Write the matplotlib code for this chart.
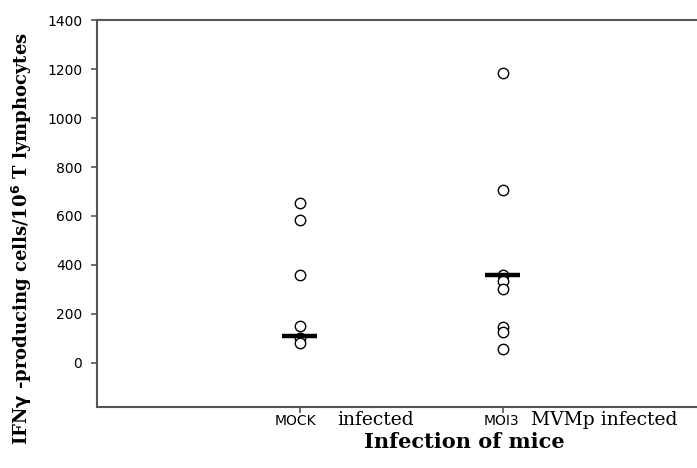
import matplotlib.pyplot as plt
import numpy as np

groups = ['MOCK', 'MOI3']
group_desc = ['infected', 'MVMp infected']
mock_vals = [655, 585, 360, 150, 100, 80]
moi3_vals = [1185, 705, 360, 335, 300, 145, 125, 55]
medians = [110, 360]
yticks = [0, 200, 400, 600, 800, 1000, 1200, 1400]

fig = plt.figure(figsize=(6.97, 4.68), dpi=100)
ax = fig.add_axes([0.1387, 0.131, 0.8738, 0.8254])

# open circles for each mouse
for i, vals in enumerate([mock_vals, moi3_vals]):
    ax.plot(np.full(len(vals), i + 1), vals, 'o', ms=7.5, mfc='white',
            mec='black', mew=1.0, zorder=3)

# thick horizontal bars for the median
for i, m in enumerate(medians):
    ax.hlines(m, i + 1 - 0.086, i + 1 + 0.086, colors='black', lw=3.2, zorder=4)

ax.set_xlim(0, 3)
ax.set_ylim(-180, 1400)
ax.set_yticks(yticks)
ax.set_xticks([1, 2])
ax.set_xticklabels(['', ''])

for s in ['left', 'bottom', 'top']:
    ax.spines[s].set_color('#555555')
    ax.spines[s].set_linewidth(1.5)
ax.spines['right'].set_visible(False)
ax.tick_params(axis='both', direction='out', length=4.5, width=1.2, color='#555555')
ax.tick_params(axis='y', labelsize=10, pad=6)

# category labels: small sans code + serif description
offsets = [(-25, 38), (-19, 28)]
for i in range(2):
    ax.annotate(groups[i], xy=(i + 1, 0), xycoords=('data', 'axes fraction'),
                xytext=(offsets[i][0], -18), textcoords='offset pixels',
                ha='left', va='baseline', fontsize=10, family='DejaVu Sans')
    ax.annotate(group_desc[i], xy=(i + 1, 0), xycoords=('data', 'axes fraction'),
                xytext=(offsets[i][1], -18), textcoords='offset pixels',
                ha='left', va='baseline', fontsize=13.5, family='DejaVu Serif')

fig.text(464 / 697, 1 - 442 / 468, 'Infection of mice', ha='center', va='center',
         fontsize=15, fontweight='bold', family='DejaVu Serif')
fig.text(22 / 697, 1 - 239 / 468,
         r'IFN$\mathbf{\gamma}$ -producing cells/10$^{\mathbf{6}}$ T lymphocytes',
         rotation=90, ha='center', va='center', fontsize=13,
         fontweight='bold', family='DejaVu Serif')

plt.savefig('out.png', dpi=100)
